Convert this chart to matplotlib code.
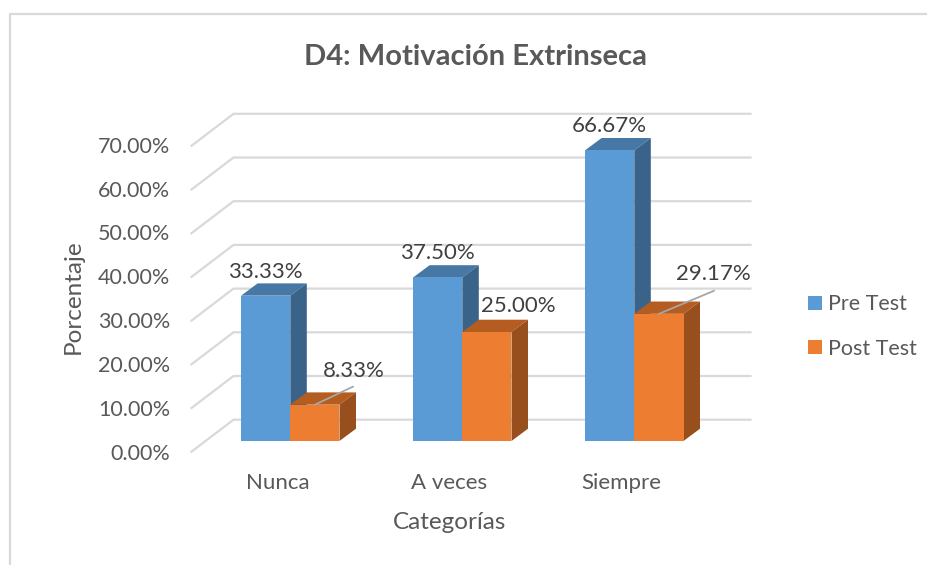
import matplotlib
matplotlib.use('Agg')
import matplotlib.pyplot as plt
import numpy as np

categories = ['Nunca', 'A veces', 'Siempre']
pre_test = [33.33, 37.50, 66.67]
post_test = [8.33, 25.00, 29.17]
y_ticks = [0, 10, 20, 30, 40, 50, 60, 70]
y_tick_labels = ['0.00%', '10.00%', '20.00%', '30.00%', '40.00%', '50.00%', '60.00%', '70.00%']

plt.rcParams['font.family'] = ['Lato', 'DejaVu Sans']

W, H = 928, 565
GROUP_PX = 172.0      # pixels between categories
UNIT_PX = 4.36        # pixels per percent on the bars
BASE_X, BASE_Y = 290.3, 441.0

fig = plt.figure(figsize=(W / 100, H / 100), dpi=100)
ax = fig.add_axes([0, 0, 1, 1])
ax.set_xlim(-BASE_X / GROUP_PX, (W - BASE_X) / GROUP_PX)
ax.set_ylim((BASE_Y - H) / UNIT_PX, BASE_Y / UNIT_PX)
ax.axis('off')


def dx(px):
    return px / GROUP_PX


def dy(px):
    return px / UNIT_PX


def xp(px):
    return (px - BASE_X) / GROUP_PX


def yp(px):
    return (BASE_Y - px) / UNIT_PX


# chart frame
grey = '#d9d9d9'
ax.plot([xp(10), xp(10), xp(W)], [yp(H), yp(14), yp(14)], color=grey, lw=1.6, zorder=1)

# walls
back_x0, back_x1, front_x = xp(233.5), xp(750.5), xp(191.5)
for v in y_ticks:
    back = dy(21.3) + v * 4.37 / UNIT_PX
    ax.plot([front_x, back_x0, back_x1], [back - dy(32), back, back],
            color=grey, lw=1.6, zorder=1, solid_joinstyle='miter')

bar_w = 49.2 / GROUP_PX
depth_x, depth_y = dx(16.5), dy(12.3)
x = np.arange(len(categories))


def bar3d(left, value, front, top, side, z, label=None):
    ax.fill([left, left + depth_x, left + bar_w + depth_x, left + bar_w],
            [value, value + depth_y, value + depth_y, value], color=top, lw=0, zorder=z)
    ax.fill([left + bar_w, left + bar_w + depth_x, left + bar_w + depth_x, left + bar_w],
            [0, depth_y, value + depth_y, value], color=side, lw=0, zorder=z)
    return ax.bar(left, value, bar_w, align='edge', color=front, zorder=z + 0.1, label=label)


for i in x:
    bar3d(i - bar_w, pre_test[i], '#5b9bd5', '#4677a5', '#3a6389', 3 + i * 2,
          'Pre Test' if i == 0 else None)
    bar3d(i, post_test[i], '#ed7d31', '#b55d20', '#974f1d', 4 + i * 2,
          'Post Test' if i == 0 else None)

# value labels
label_color = '#404040'
label_size = 16
for i in x:
    ax.text(i - bar_w / 2, pre_test[i] + dy(18), f'{pre_test[i]:.2f}%', ha='center',
            va='baseline', fontsize=label_size, color=label_color, zorder=20)

post_offsets = [(39, 28), (31, 20), (54, 34)]
leader_ends = [(38, 18), None, (55, 23)]
for i, (ox, oy), end in zip(x, post_offsets, leader_ends):
    ax.text(i + bar_w / 2 + dx(ox), post_test[i] + dy(oy), f'{post_test[i]:.2f}%', ha='center',
            va='baseline', fontsize=label_size, color=label_color, zorder=20)
    if end:
        ax.plot([i + bar_w / 2, i + bar_w / 2 + dx(end[0])],
                [post_test[i], post_test[i] + dy(end[1])],
                color='#a6a6a6', lw=1.3, zorder=19)

# axis text
tick_color = '#595959'
for v, lab in zip(y_ticks, y_tick_labels):
    ax.text(xp(170), yp(452.5 - v * 4.39 + 7.5), lab, ha='right', va='baseline', fontsize=15.5, color=tick_color)
for i, c in zip(x, categories):
    ax.text(xp(278 + i * 171.5), yp(489), c, ha='center', va='baseline', fontsize=16, color=tick_color)
ax.text(xp(450), yp(529), 'Categorías', ha='center', va='baseline', fontsize=17.5, color=tick_color)
ax.text(xp(73), yp(297), 'Porcentaje', ha='center', va='center', rotation=90, fontsize=17.5, color=tick_color)
ax.text(xp(476), yp(65), 'D4: Motivación Extrinseca', ha='center', va='baseline',
        fontsize=21, fontweight='bold', color=tick_color)

fig.legend(loc='upper left', bbox_to_anchor=(801.5 / W, 1 - 288 / H), frameon=False,
           fontsize=15.5, labelcolor=tick_color, handlelength=0.65, handleheight=0.65,
           handletextpad=0.28, labelspacing=1.12, borderpad=0.3, borderaxespad=0)

fig.savefig('out.png', dpi=100)
